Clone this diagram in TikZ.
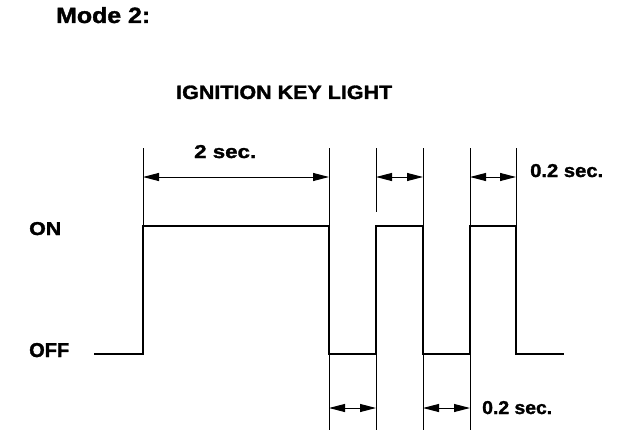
\documentclass[tikz,border=0pt]{standalone}
\usepackage{fontspec}
\setmainfont{Liberation Sans}
\newfontfamily\heavyfont[FakeBold=1.5]{Liberation Sans Bold}
\usetikzlibrary{arrows.meta}
\newcommand{\lbl}[3]{\resizebox{#1pt}{#2pt}{\heavyfont #3}}
\begin{document}
\begin{tikzpicture}[x=1pt,y=-1pt,
  wave/.style={line width=2pt, line join=miter},
  ext/.style={line width=0.9pt},
  dimarrow/.style={line width=1pt,{Triangle[length=16pt,width=8pt]}-{Triangle[length=16pt,width=8pt]}},
  lab/.style={inner sep=0pt, anchor=base west}]
\useasboundingbox (0,0) rectangle (624,444);

% labels
\node[lab] (mode) at (56,23) {\lbl{94}{16}{Mode 2:}};
\node[lab] (title) at (176,99) {\lbl{216}{13.5}{IGNITION KEY LIGHT}};
\node[lab] (on) at (29,235) {\lbl{32}{13}{ON}};
\node[lab] (off) at (29,357) {\lbl{40}{14}{OFF}};
\node[lab] (twosec) at (194,158) {\lbl{62}{13}{2 sec.}};
\node[lab] (topsec) at (530,177) {\lbl{73}{13}{0.2 sec.}};
\node[lab] (botsec) at (482,414) {\lbl{70}{13}{0.2 sec.}};

% waveform corners
\coordinate (w0) at (94,354);
\coordinate (w1) at (143,354);
\coordinate (w2) at (143,226);
\coordinate (w3) at (329,226);
\coordinate (w4) at (329,354);
\coordinate (w5) at (376,354);
\coordinate (w6) at (376,226);
\coordinate (w7) at (423,226);
\coordinate (w8) at (423,354);
\coordinate (w9) at (470,354);
\coordinate (w10) at (470,226);
\coordinate (w11) at (516,226);
\coordinate (w12) at (516,354);
\coordinate (w13) at (564,354);

\draw[wave] (w0) -- (w1) -- (w2) -- (w3) -- (w4) -- (w5) -- (w6) -- (w7)
  -- (w8) -- (w9) -- (w10) -- (w11) -- (w12) -- (w13);

% top extension lines
\coordinate (t1) at (143,148);
\coordinate (t2) at (329,148);
\coordinate (t3) at (376,148);
\coordinate (t3e) at (376,212);
\coordinate (t4) at (423,148);
\coordinate (t5) at (470,148);
\coordinate (t6) at (516,148);
\draw[ext] (t1) -- (w2);
\draw[ext] (t2) -- (w3);
\draw[ext] (t3) -- (t3e);
\draw[ext] (t4) -- (w7);
\draw[ext] (t5) -- (w10);
\draw[ext] (t6) -- (w11);

% bottom extension lines
\coordinate (b1) at (329,430);
\coordinate (b2) at (376,430);
\coordinate (b3) at (423,430);
\coordinate (b4) at (470,430);
\draw[ext] (w4) -- (b1);
\draw[ext] (w5) -- (b2);
\draw[ext] (w8) -- (b3);
\draw[ext] (w9) -- (b4);

% dimension arrows top
\coordinate (a1) at (143,177);
\coordinate (a2) at (329,177);
\coordinate (a3) at (376,177);
\coordinate (a4) at (423,177);
\coordinate (a5) at (470,177);
\coordinate (a6) at (516,177);
\draw[dimarrow] (a1) -- (a2);
\draw[dimarrow] (a3) -- (a4);
\draw[dimarrow] (a5) -- (a6);

% dimension arrows bottom
\coordinate (c1) at (329,408);
\coordinate (c2) at (376,408);
\coordinate (c3) at (423,408);
\coordinate (c4) at (470,408);
\draw[dimarrow] (c1) -- (c2);
\draw[dimarrow] (c3) -- (c4);
\end{tikzpicture}
\end{document}
